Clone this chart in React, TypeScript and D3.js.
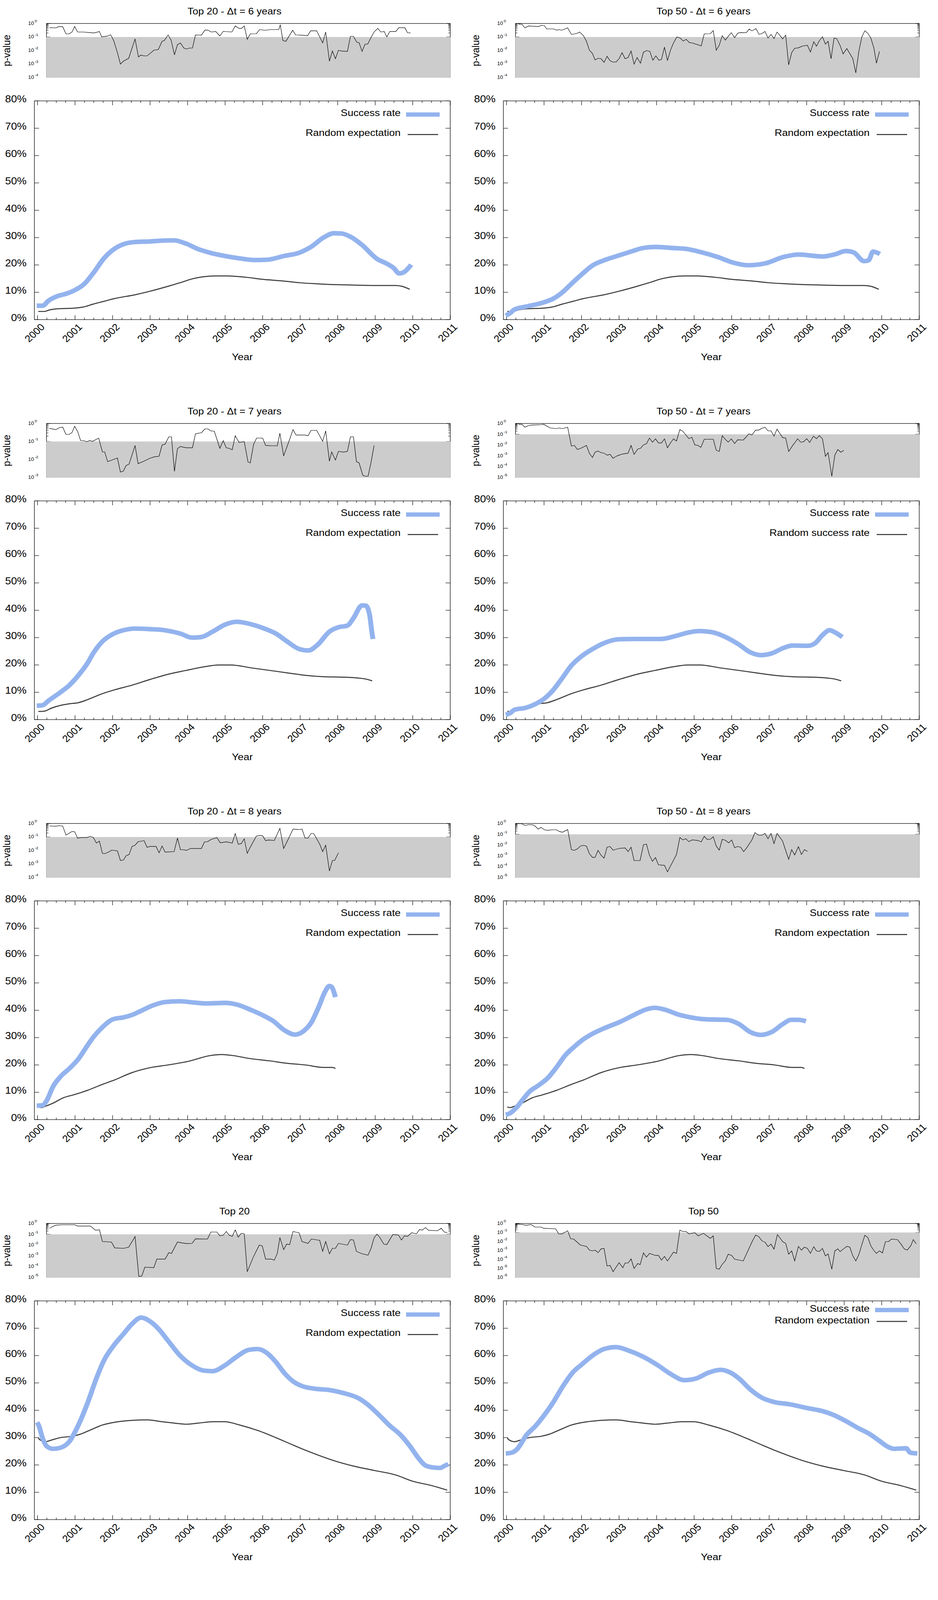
import * as d3 from 'd3';
import React from 'react';

type Pt = [number, number];

// x tick labels and y tick labels
const yearTicks = d3.range(2000, 2012);
const pctTicks = [0, 10, 20, 30, 40, 50, 60, 70, 80];

// p-value series: [year, log10(p)]
const pTop20dt6: Pt[] = [
  [2000.32, -0.31], [2000.49, -0.32], [2000.57, -0.23], [2000.67, -0.23], [2000.76, -0.77], [2000.84, -0.77],
  [2000.92, -0.63], [2000.99, -0.22], [2001.07, -0.63], [2001.23, -0.63], [2001.38, -0.67], [2001.51, -0.7],
  [2001.65, -0.59], [2001.71, -0.99], [2001.85, -0.94], [2001.95, -0.83], [2002.03, -1.26], [2002.13, -2.16],
  [2002.21, -3.01], [2002.29, -2.79], [2002.43, -2.58], [2002.6, -1.14], [2002.69, -2.47], [2002.76, -2.34],
  [2002.83, -2.4], [2002.92, -2.4], [2003.0, -2.22], [2003.1, -1.98], [2003.22, -1.93], [2003.32, -1.32],
  [2003.38, -1.26], [2003.48, -0.85], [2003.56, -1.23], [2003.65, -2.32], [2003.73, -1.57], [2003.81, -1.44],
  [2003.9, -1.82], [2003.97, -1.89], [2004.05, -1.82], [2004.13, -1.82], [2004.21, -0.85], [2004.37, -0.86],
  [2004.46, -0.49], [2004.54, -0.49], [2004.63, -0.63], [2004.75, -0.59], [2004.86, -0.92], [2004.95, -0.58],
  [2005.18, -0.63], [2005.27, -0.18], [2005.37, -0.36], [2005.44, -0.36], [2005.51, -0.18], [2005.59, -1.17],
  [2005.67, -0.77], [2005.83, -0.76], [2005.92, -0.45], [2006.07, -0.5], [2006.21, -0.45], [2006.43, -0.45],
  [2006.47, -0.09], [2006.54, -1.26], [2006.62, -1.32], [2006.8, -0.5], [2006.88, -0.85], [2007.02, -0.86],
  [2007.2, -0.9], [2007.28, -0.54], [2007.44, -0.54], [2007.6, -1.44], [2007.68, -0.63], [2007.78, -2.79],
  [2007.86, -2.04], [2007.94, -2.61], [2008.02, -1.98], [2008.1, -2.04], [2008.26, -2.07], [2008.34, -0.95],
  [2008.42, -0.95], [2008.51, -1.39], [2008.57, -1.42], [2008.65, -2.07], [2008.73, -1.53], [2008.8, -1.53],
  [2008.89, -1.03], [2008.97, -0.63], [2009.07, -0.36], [2009.15, -0.63], [2009.24, -0.59], [2009.31, -0.99],
  [2009.39, -0.59], [2009.55, -0.59], [2009.63, -0.31], [2009.79, -0.31], [2009.86, -0.68], [2009.94, -0.7],
];

const pTop50dt6: Pt[] = [
  [2000.32, -0.04], [2000.41, -0.05], [2000.49, -0.32], [2000.59, -0.18], [2000.69, -0.2], [2000.85, -0.22],
  [2000.93, -0.14], [2001.01, -0.16], [2001.07, -0.4], [2001.25, -0.4], [2001.33, -0.49], [2001.41, -0.45],
  [2001.47, -0.5], [2001.63, -0.32], [2001.73, -0.81], [2001.87, -0.74], [2001.95, -0.63], [2002.05, -0.9],
  [2002.13, -1.32], [2002.21, -1.98], [2002.29, -2.22], [2002.36, -2.7], [2002.44, -2.58], [2002.52, -2.61],
  [2002.6, -2.88], [2002.68, -2.43], [2002.76, -2.76], [2002.84, -2.86], [2002.92, -2.85], [2003.0, -2.61],
  [2003.08, -2.16], [2003.16, -2.61], [2003.24, -2.52], [2003.32, -2.04], [2003.4, -3.01], [2003.48, -2.52],
  [2003.57, -2.94], [2003.65, -2.13], [2003.74, -2.0], [2003.82, -2.07], [2003.9, -2.72], [2003.98, -2.4],
  [2004.06, -2.72], [2004.13, -2.67], [2004.21, -1.75], [2004.29, -2.74], [2004.37, -1.98], [2004.45, -1.44],
  [2004.54, -0.99], [2004.63, -1.08], [2004.71, -1.3], [2004.79, -1.17], [2004.87, -1.41], [2004.95, -1.44],
  [2005.19, -1.66], [2005.27, -0.77], [2005.43, -0.76], [2005.51, -0.52], [2005.59, -1.98], [2005.67, -1.62],
  [2005.75, -0.9], [2005.83, -1.23], [2005.99, -0.68], [2006.08, -1.05], [2006.16, -0.72], [2006.23, -0.67],
  [2006.39, -0.68], [2006.47, -0.41], [2006.54, -0.54], [2006.65, -0.38], [2006.73, -0.81], [2006.81, -0.74],
  [2006.89, -0.59], [2006.97, -1.08], [2007.05, -0.81], [2007.13, -1.12], [2007.21, -0.63], [2007.28, -0.86],
  [2007.36, -1.14], [2007.44, -0.86], [2007.52, -3.06], [2007.6, -2.16], [2007.68, -1.84], [2007.78, -1.8],
  [2007.9, -1.66], [2008.02, -1.62], [2008.1, -2.11], [2008.19, -1.35], [2008.26, -1.68], [2008.34, -1.26],
  [2008.42, -0.99], [2008.5, -1.53], [2008.57, -1.32], [2008.65, -2.61], [2008.73, -1.08], [2008.8, -1.12],
  [2008.89, -1.62], [2008.97, -2.25], [2009.07, -1.86], [2009.23, -2.61], [2009.31, -3.66], [2009.39, -2.07],
  [2009.47, -0.99], [2009.55, -0.54], [2009.63, -0.72], [2009.71, -1.08], [2009.79, -1.8], [2009.86, -2.94],
  [2009.94, -2.07],
];

const pTop20dt7: Pt[] = [
  [2000.32, -0.27], [2000.49, -0.34], [2000.57, -0.24], [2000.67, -0.2], [2000.76, -0.61], [2000.84, -0.61],
  [2000.92, -0.5], [2000.99, -0.15], [2001.07, -0.45], [2001.15, -0.95], [2001.23, -0.95], [2001.31, -1.01],
  [2001.39, -0.95], [2001.47, -0.99], [2001.63, -0.81], [2001.73, -1.58], [2001.79, -1.58], [2001.87, -2.12],
  [2002.13, -1.92], [2002.21, -2.7], [2002.29, -2.64], [2002.36, -2.34], [2002.44, -2.26], [2002.6, -1.22],
  [2002.68, -2.23], [2002.84, -2.09], [2003.0, -1.93], [2003.12, -1.85], [2003.24, -1.82], [2003.32, -1.19],
  [2003.4, -1.15], [2003.5, -0.74], [2003.57, -0.74], [2003.65, -2.66], [2003.73, -1.39], [2003.81, -1.28],
  [2003.97, -1.35], [2004.13, -1.35], [2004.21, -0.57], [2004.37, -0.51], [2004.46, -0.3], [2004.54, -0.3],
  [2004.63, -0.42], [2004.71, -0.42], [2004.86, -1.38], [2004.95, -0.95], [2005.03, -1.35], [2005.11, -1.38],
  [2005.19, -1.46], [2005.27, -0.68], [2005.37, -1.05], [2005.51, -1.01], [2005.61, -2.14], [2005.67, -2.19],
  [2005.76, -1.15], [2005.84, -0.81], [2006.0, -0.81], [2006.08, -1.22], [2006.23, -1.24], [2006.39, -1.24],
  [2006.46, -0.54], [2006.56, -1.8], [2006.72, -0.88], [2006.81, -0.34], [2006.89, -0.64], [2007.13, -0.64],
  [2007.21, -0.68], [2007.29, -0.38], [2007.44, -0.38], [2007.6, -0.99], [2007.68, -0.41], [2007.78, -2.09],
  [2007.84, -1.58], [2007.94, -2.03], [2008.02, -1.55], [2008.16, -1.59], [2008.26, -1.55], [2008.34, -0.74],
  [2008.42, -0.74], [2008.5, -2.12], [2008.57, -2.19], [2008.67, -2.88], [2008.73, -2.93], [2008.81, -2.93],
  [2008.89, -2.16], [2008.97, -1.22],
];

const pTop50dt7: Pt[] = [
  [2000.32, -0.07], [2000.41, -0.07], [2000.49, -0.34], [2000.59, -0.18], [2000.69, -0.14], [2000.93, -0.11],
  [2000.99, -0.07], [2001.07, -0.23], [2001.16, -0.41], [2001.33, -0.47], [2001.41, -0.41], [2001.49, -0.47],
  [2001.63, -0.34], [2001.73, -2.09], [2001.81, -2.03], [2001.89, -2.41], [2002.01, -2.25], [2002.13, -2.03],
  [2002.21, -2.77], [2002.29, -3.15], [2002.36, -2.66], [2002.44, -2.55], [2002.52, -2.7], [2002.6, -2.75],
  [2002.68, -2.93], [2002.76, -2.86], [2002.84, -3.22], [2002.92, -3.04], [2003.0, -2.93], [2003.1, -2.82],
  [2003.24, -2.75], [2003.32, -2.03], [2003.4, -2.86], [2003.5, -2.36], [2003.57, -2.3], [2003.65, -1.98],
  [2003.73, -1.87], [2003.81, -1.35], [2003.89, -1.73], [2003.97, -1.42], [2004.05, -1.8], [2004.13, -1.8],
  [2004.21, -1.42], [2004.29, -2.25], [2004.37, -1.8], [2004.45, -1.42], [2004.53, -1.62], [2004.62, -0.56],
  [2004.7, -0.72], [2004.78, -1.06], [2004.86, -1.4], [2004.94, -1.28], [2005.02, -1.98], [2005.1, -2.03],
  [2005.18, -2.21], [2005.27, -1.46], [2005.51, -1.46], [2005.59, -2.48], [2005.67, -2.59], [2005.75, -1.13],
  [2005.83, -1.46], [2005.91, -1.73], [2005.99, -1.42], [2006.08, -1.85], [2006.16, -1.51], [2006.31, -1.53],
  [2006.39, -1.24], [2006.46, -0.95], [2006.54, -1.06], [2006.64, -0.61], [2006.72, -0.61], [2006.8, -0.45],
  [2006.89, -0.34], [2006.97, -0.68], [2007.05, -0.68], [2007.13, -1.17], [2007.21, -0.52], [2007.29, -0.95],
  [2007.36, -1.31], [2007.44, -1.35], [2007.52, -2.59], [2007.62, -2.07], [2007.76, -1.42], [2007.84, -1.73],
  [2007.92, -1.69], [2008.0, -1.4], [2008.08, -1.76], [2008.18, -1.17], [2008.26, -1.4], [2008.34, -1.13],
  [2008.42, -1.42], [2008.5, -3.04], [2008.57, -2.7], [2008.67, -4.89], [2008.75, -2.93], [2008.83, -2.41],
  [2008.91, -2.66], [2008.99, -2.48],
];

const pTop20dt8: Pt[] = [
  [2000.32, -0.18], [2000.49, -0.2], [2000.57, -0.16], [2000.67, -0.18], [2000.76, -0.86], [2000.92, -0.59],
  [2000.99, -0.61], [2001.07, -1.09], [2001.15, -1.04], [2001.31, -1.04], [2001.41, -0.95], [2001.49, -1.04],
  [2001.57, -1.45], [2001.65, -1.31], [2001.73, -2.21], [2001.79, -2.24], [2001.89, -2.12], [2001.98, -1.97],
  [2002.13, -2.03], [2002.21, -2.74], [2002.29, -2.71], [2002.36, -2.39], [2002.44, -2.3], [2002.52, -1.7],
  [2002.6, -1.61], [2002.68, -1.35], [2002.76, -1.31], [2002.84, -1.27], [2002.92, -1.76], [2003.0, -1.7],
  [2003.16, -1.7], [2003.24, -2.17], [2003.32, -1.67], [2003.4, -2.12], [2003.64, -2.08], [2003.73, -1.08],
  [2003.81, -1.94], [2003.89, -1.94], [2003.97, -1.99], [2004.08, -1.85], [2004.37, -1.85], [2004.45, -1.36],
  [2004.53, -1.35], [2004.63, -1.18], [2004.78, -1.04], [2004.87, -1.43], [2005.03, -1.36], [2005.19, -1.45],
  [2005.27, -0.74], [2005.35, -1.54], [2005.43, -1.49], [2005.51, -1.13], [2005.59, -2.21], [2005.67, -1.76],
  [2005.83, -0.95], [2005.91, -0.88], [2006.0, -0.91], [2006.08, -1.27], [2006.16, -1.22], [2006.31, -1.26],
  [2006.46, -0.36], [2006.56, -1.85], [2006.72, -0.95], [2006.81, -0.41], [2006.97, -0.45], [2007.05, -0.41],
  [2007.13, -1.08], [2007.21, -1.08], [2007.29, -0.74], [2007.36, -0.74], [2007.52, -1.52], [2007.6, -2.08],
  [2007.68, -1.61], [2007.78, -3.52], [2007.86, -2.74], [2007.92, -2.74], [2008.02, -2.17],
];

const pTop50dt8: Pt[] = [
  [2000.32, -0.02], [2000.41, -0.02], [2000.49, -0.18], [2000.59, -0.11], [2000.68, -0.11], [2000.76, -0.22],
  [2000.84, -0.52], [2000.92, -0.36], [2001.01, -0.58], [2001.09, -0.63], [2001.23, -0.58], [2001.33, -0.58],
  [2001.41, -0.74], [2001.49, -0.81], [2001.63, -0.56], [2001.73, -2.42], [2001.81, -2.49], [2001.89, -2.35],
  [2001.97, -2.09], [2002.05, -2.02], [2002.13, -2.09], [2002.21, -2.8], [2002.29, -3.14], [2002.36, -3.14],
  [2002.44, -2.49], [2002.52, -2.94], [2002.6, -3.21], [2002.68, -2.2], [2002.76, -2.13], [2002.84, -2.47],
  [2003.0, -2.31], [2003.16, -2.26], [2003.24, -2.6], [2003.32, -2.2], [2003.4, -3.43], [2003.56, -3.43],
  [2003.65, -1.97], [2003.73, -1.91], [2003.81, -2.94], [2003.89, -3.5], [2003.97, -3.16], [2004.05, -3.83],
  [2004.21, -3.88], [2004.29, -4.48], [2004.53, -2.87], [2004.62, -1.3], [2004.7, -1.52], [2004.78, -1.41],
  [2004.86, -1.68], [2004.95, -1.52], [2005.1, -1.57], [2005.19, -1.7], [2005.27, -1.19], [2005.35, -1.48],
  [2005.43, -1.46], [2005.51, -1.23], [2005.59, -2.09], [2005.67, -2.47], [2005.75, -1.46], [2005.84, -1.57],
  [2005.92, -1.79], [2006.0, -1.52], [2006.08, -2.24], [2006.16, -2.13], [2006.24, -2.2], [2006.32, -2.6],
  [2006.4, -2.26], [2006.54, -1.52], [2006.62, -0.85], [2006.72, -1.08], [2006.81, -1.08], [2006.89, -0.92],
  [2006.97, -1.41], [2007.05, -0.92], [2007.13, -1.86], [2007.21, -0.92], [2007.36, -1.64], [2007.44, -2.49],
  [2007.52, -3.32], [2007.6, -2.42], [2007.68, -2.91], [2007.78, -2.15], [2007.86, -2.87], [2007.94, -2.42],
  [2008.02, -2.58],
];

const pTop20: Pt[] = [
  [2000.32, -0.44], [2000.41, -0.26], [2000.49, -0.16], [2000.65, -0.12], [2000.99, -0.12], [2001.07, -0.23],
  [2001.41, -0.23], [2001.55, -0.63], [2001.65, -0.58], [2001.73, -1.67], [2001.97, -1.72], [2002.06, -2.26],
  [2002.29, -2.3], [2002.43, -2.19], [2002.6, -1.21], [2002.7, -4.91], [2002.78, -4.86], [2002.86, -4.05],
  [2003.1, -4.09], [2003.18, -3.3], [2003.4, -3.3], [2003.5, -2.7], [2003.57, -2.77], [2003.73, -1.72],
  [2003.81, -1.77], [2003.97, -1.86], [2004.12, -1.84], [2004.21, -1.42], [2004.53, -1.44], [2004.62, -0.79],
  [2004.78, -0.79], [2004.86, -1.14], [2004.95, -1.09], [2005.03, -0.74], [2005.11, -1.09], [2005.19, -1.19],
  [2005.27, -0.6], [2005.35, -1.26], [2005.43, -0.91], [2005.51, -0.95], [2005.59, -4.47], [2005.75, -3.12],
  [2005.91, -2.0], [2005.99, -2.07], [2006.08, -3.3], [2006.23, -3.3], [2006.31, -3.4], [2006.39, -2.77],
  [2006.46, -1.3], [2006.56, -2.42], [2006.64, -1.91], [2006.72, -1.95], [2006.81, -0.74], [2006.97, -0.86],
  [2007.05, -1.67], [2007.21, -1.84], [2007.3, -1.44], [2007.52, -1.56], [2007.6, -2.58], [2007.68, -1.67],
  [2007.78, -2.81], [2007.86, -2.3], [2007.94, -2.3], [2008.02, -1.84], [2008.26, -2.0], [2008.34, -1.49],
  [2008.42, -1.53], [2008.5, -2.58], [2008.65, -2.81], [2008.81, -2.93], [2008.89, -2.3], [2008.97, -1.33],
  [2009.05, -0.98], [2009.13, -1.33], [2009.23, -1.91], [2009.31, -1.95], [2009.47, -1.02], [2009.62, -1.07],
  [2009.7, -1.53], [2009.78, -1.14], [2009.86, -1.19], [2009.97, -0.86], [2010.1, -0.95], [2010.18, -0.56],
  [2010.26, -0.6], [2010.34, -0.37], [2010.42, -0.63], [2010.66, -0.67], [2010.76, -0.44], [2010.84, -0.79],
  [2010.92, -0.84],
];

const pTop50: Pt[] = [
  [2000.29, -0.06], [2000.41, -0.11], [2000.53, -0.2], [2000.65, -0.11], [2000.76, -0.39], [2000.92, -0.39],
  [2000.99, -0.53], [2001.31, -0.59], [2001.39, -1.15], [2001.47, -1.17], [2001.63, -0.81], [2001.71, -1.7],
  [2001.79, -1.73], [2001.97, -2.4], [2002.13, -2.54], [2002.21, -2.96], [2002.29, -3.04], [2002.36, -2.96],
  [2002.44, -3.24], [2002.52, -2.82], [2002.6, -2.77], [2002.68, -4.72], [2002.76, -4.66], [2002.84, -5.36],
  [2003.0, -4.36], [2003.1, -4.92], [2003.16, -4.39], [2003.24, -4.39], [2003.32, -3.94], [2003.4, -5.0],
  [2003.5, -4.44], [2003.56, -4.58], [2003.65, -3.27], [2003.73, -3.74], [2003.81, -3.32], [2003.97, -3.55],
  [2004.05, -3.55], [2004.13, -4.08], [2004.21, -3.66], [2004.29, -4.16], [2004.45, -3.18], [2004.53, -3.32],
  [2004.62, -0.73], [2004.7, -0.89], [2004.78, -0.87], [2004.86, -1.15], [2005.02, -1.03], [2005.11, -1.37],
  [2005.25, -1.09], [2005.43, -1.65], [2005.51, -1.37], [2005.59, -5.0], [2005.67, -5.08], [2005.75, -4.53],
  [2005.83, -4.16], [2005.91, -3.41], [2006.0, -3.55], [2006.08, -3.97], [2006.31, -4.16], [2006.55, -1.98],
  [2006.64, -1.28], [2006.72, -1.45], [2006.81, -1.93], [2006.89, -2.07], [2006.97, -2.57], [2007.05, -2.29],
  [2007.13, -2.85], [2007.22, -1.23], [2007.36, -2.01], [2007.44, -2.21], [2007.52, -3.41], [2007.6, -3.04],
  [2007.68, -4.16], [2007.78, -2.54], [2007.86, -2.96], [2007.94, -2.63], [2008.02, -2.77], [2008.1, -3.32],
  [2008.19, -2.57], [2008.26, -3.04], [2008.34, -3.1], [2008.42, -2.77], [2008.5, -3.6], [2008.57, -3.38],
  [2008.67, -5.08], [2008.75, -3.04], [2008.83, -2.82], [2008.89, -3.13], [2008.97, -2.85], [2009.07, -2.54],
  [2009.15, -2.63], [2009.23, -3.6], [2009.31, -4.16], [2009.39, -3.46], [2009.47, -2.35], [2009.55, -1.31],
  [2009.63, -1.56], [2009.71, -2.49], [2009.79, -2.99], [2009.86, -3.32], [2009.94, -3.04], [2010.02, -3.27],
  [2010.1, -2.01], [2010.18, -2.01], [2010.26, -1.73], [2010.42, -1.79], [2010.5, -2.21], [2010.6, -2.82],
  [2010.68, -2.96], [2010.78, -2.43], [2010.84, -1.79], [2010.92, -2.26],
];

// success rate series: [year, percent]
const successTop20dt6: Pt[] = [
  [1999.98, 5.1], [2000.14, 5.1], [2000.29, 6.9], [2000.53, 8.6], [2000.77, 9.5], [2001.01, 10.9], [2001.25, 13.1],
  [2001.49, 17.1], [2001.77, 22.4], [2002.01, 25.5], [2002.29, 27.6], [2002.6, 28.4], [2003.0, 28.6], [2003.32, 28.9],
  [2003.64, 29.0], [2003.96, 27.8], [2004.28, 25.8], [2004.59, 24.5], [2004.99, 23.3], [2005.39, 22.4], [2005.79, 21.8],
  [2006.11, 21.9], [2006.58, 23.3], [2006.98, 24.5], [2007.3, 26.7], [2007.62, 30.0], [2007.9, 31.6], [2008.1, 31.5],
  [2008.38, 30.0], [2008.65, 27.3], [2009.05, 22.2], [2009.29, 20.6], [2009.49, 18.9], [2009.64, 16.9], [2009.77, 17.4],
  [2009.96, 20.1],
];

const successTop50dt6: Pt[] = [
  [1999.98, 1.5], [2000.1, 2.4], [2000.21, 3.7], [2000.53, 4.8], [2001.01, 6.4], [2001.25, 7.7], [2001.49, 10.0],
  [2001.73, 13.1], [2002.01, 16.6], [2002.29, 19.8], [2002.6, 21.7], [2003.0, 23.5], [2003.32, 24.9], [2003.64, 26.2],
  [2003.96, 26.6], [2004.43, 26.2], [2004.83, 25.8], [2005.15, 24.8], [2005.63, 22.9], [2006.03, 20.9], [2006.43, 19.9],
  [2006.9, 20.6], [2007.38, 22.9], [2007.78, 23.8], [2008.42, 23.1], [2008.73, 23.8], [2009.05, 25.1], [2009.25, 24.6],
  [2009.53, 21.4], [2009.65, 21.7], [2009.77, 24.9], [2009.86, 24.6], [2009.95, 24.0],
];

const successTop20dt7: Pt[] = [
  [1999.98, 5.1], [2000.14, 5.3], [2000.29, 6.9], [2000.61, 10.0], [2000.85, 12.6], [2001.09, 16.2], [2001.33, 20.6],
  [2001.49, 24.4], [2001.73, 28.6], [2002.01, 31.3], [2002.29, 32.7], [2002.6, 33.3], [2003.0, 33.1], [2003.4, 32.7],
  [2003.8, 31.5], [2004.12, 30.0], [2004.36, 30.2], [2004.67, 32.2], [2004.99, 34.7], [2005.31, 35.8], [2005.63, 35.1],
  [2006.03, 33.4], [2006.35, 31.5], [2006.66, 28.5], [2006.98, 25.8], [2007.22, 25.3], [2007.46, 27.3], [2007.78, 32.2],
  [2008.02, 33.8], [2008.26, 34.4], [2008.42, 37.1], [2008.65, 41.8], [2008.75, 41.7], [2008.85, 38.4], [2008.91, 32.2],
  [2008.94, 29.5],
];

const successTop50dt7: Pt[] = [
  [1999.98, 1.8], [2000.1, 2.4], [2000.21, 3.6], [2000.53, 4.4], [2000.77, 5.7], [2001.01, 7.7], [2001.25, 10.9],
  [2001.49, 15.3], [2001.73, 19.8], [2002.01, 23.3], [2002.29, 25.8], [2002.6, 28.0], [2003.0, 29.4], [2003.48, 29.5],
  [2004.12, 29.5], [2004.51, 30.6], [2004.83, 31.8], [2005.15, 32.4], [2005.47, 32.0], [2005.87, 30.0], [2006.19, 27.5],
  [2006.5, 24.6], [2006.78, 23.6], [2007.06, 24.2], [2007.38, 26.2], [2007.62, 27.1], [2008.02, 27.0], [2008.22, 27.9],
  [2008.42, 30.9], [2008.61, 32.7], [2008.77, 31.8], [2008.95, 30.2],
];

const successTop20dt8: Pt[] = [
  [1999.98, 5.1], [2000.14, 5.3], [2000.25, 7.1], [2000.41, 12.0], [2000.61, 15.7], [2000.85, 18.7], [2001.09, 22.2],
  [2001.33, 27.1], [2001.49, 30.2], [2001.73, 33.8], [2002.01, 36.7], [2002.29, 37.4], [2002.52, 38.3], [2002.76, 39.8],
  [2003.08, 41.8], [2003.4, 43.0], [2003.8, 43.3], [2004.12, 42.9], [2004.51, 42.5], [2004.99, 42.7], [2005.31, 42.1],
  [2005.71, 40.0], [2006.03, 38.0], [2006.27, 36.2], [2006.58, 32.7], [2006.86, 31.1], [2007.1, 32.5], [2007.3, 35.6],
  [2007.5, 41.4], [2007.66, 46.7], [2007.78, 48.9], [2007.84, 48.5], [2007.9, 46.7], [2007.94, 44.8],
];

const successTop50dt8: Pt[] = [
  [1999.98, 1.8], [2000.1, 2.4], [2000.25, 4.2], [2000.45, 7.6], [2000.61, 10.2], [2000.85, 12.5], [2001.09, 15.1],
  [2001.33, 19.1], [2001.57, 23.6], [2001.81, 26.7], [2002.05, 29.4], [2002.29, 31.4], [2002.6, 33.4], [2003.0, 35.6],
  [2003.4, 38.3], [2003.72, 40.3], [2003.96, 40.9], [2004.2, 40.3], [2004.59, 38.4], [2004.91, 37.4], [2005.31, 36.7],
  [2005.87, 36.5], [2006.19, 35.0], [2006.5, 32.0], [2006.78, 31.0], [2007.06, 32.0], [2007.38, 35.1], [2007.58, 36.5],
  [2007.78, 36.5], [2007.98, 36.0],
];

const successTop20: Pt[] = [
  [1999.99, 35.6], [2000.04, 34.2], [2000.14, 29.6], [2000.25, 26.8], [2000.41, 25.9], [2000.61, 26.3], [2000.85, 28.6],
  [2001.09, 34.6], [2001.33, 42.5], [2001.57, 51.7], [2001.77, 58.2], [2002.01, 63.3], [2002.29, 67.9], [2002.52, 71.6],
  [2002.76, 73.9], [2003.0, 72.5], [2003.23, 69.7], [2003.47, 65.6], [2003.8, 60.0], [2004.12, 56.4], [2004.43, 54.5],
  [2004.67, 54.3], [2004.99, 56.4], [2005.31, 59.6], [2005.63, 62.1], [2005.87, 62.4], [2006.11, 61.0], [2006.35, 57.7],
  [2006.58, 53.6], [2006.82, 50.5], [2007.06, 48.8], [2007.38, 47.9], [2007.78, 47.4], [2008.18, 46.2], [2008.57, 44.3],
  [2008.81, 42.0], [2009.13, 37.9], [2009.37, 34.6], [2009.69, 30.8], [2009.93, 26.8], [2010.17, 22.2], [2010.33, 19.9],
  [2010.53, 19.1], [2010.73, 18.9], [2010.85, 19.7], [2010.95, 20.3],
];

const successTop50: Pt[] = [
  [1999.98, 24.2], [2000.14, 24.5], [2000.29, 25.9], [2000.53, 30.9], [2000.77, 34.2], [2001.01, 38.3], [2001.25, 43.0],
  [2001.49, 48.5], [2001.77, 53.9], [2002.01, 56.8], [2002.29, 60.0], [2002.6, 62.4], [2002.92, 63.1], [2003.24, 61.9],
  [2003.64, 59.6], [2004.04, 56.4], [2004.36, 53.4], [2004.75, 51.0], [2005.07, 51.7], [2005.39, 53.8], [2005.71, 54.8],
  [2005.95, 53.9], [2006.19, 51.7], [2006.5, 47.6], [2006.82, 44.5], [2007.14, 43.0], [2007.54, 42.2], [2008.02, 40.8],
  [2008.42, 39.7], [2008.73, 38.2], [2009.05, 36.0], [2009.37, 33.5], [2009.69, 31.2], [2009.93, 28.9], [2010.17, 26.6],
  [2010.33, 25.9], [2010.65, 26.1], [2010.76, 24.5], [2010.95, 24.2],
];

// random expectation series (shared by Top 20 / Top 50 for each window)
const random6: Pt[] = [
  [2000.02, 3.0], [2000.18, 3.0], [2000.33, 3.6], [2000.57, 4.0], [2000.97, 4.2], [2001.21, 4.6], [2001.49, 5.7],
  [2001.77, 6.7], [2002.05, 7.7], [2002.6, 9.1], [2003.0, 10.4], [2003.48, 12.2], [2003.8, 13.5], [2004.12, 14.9],
  [2004.43, 15.7], [2004.75, 16.0], [2005.07, 16.0], [2005.55, 15.5], [2006.03, 14.7], [2006.5, 14.2], [2006.98, 13.5],
  [2007.46, 13.1], [2007.94, 12.8], [2008.57, 12.6], [2008.97, 12.5], [2009.52, 12.5], [2009.71, 12.2], [2009.92, 11.1],
];

const random7: Pt[] = [
  [2000.02, 3.0], [2000.18, 3.1], [2000.37, 4.2], [2000.61, 5.2], [2000.85, 5.8], [2001.09, 6.2], [2001.33, 7.3],
  [2001.73, 9.5], [2002.05, 10.9], [2002.52, 12.6], [2003.0, 14.7], [2003.48, 16.6], [2003.96, 18.0], [2004.43, 19.3],
  [2004.83, 20.0], [2005.15, 20.0], [2005.71, 18.9], [2006.19, 18.0], [2006.66, 17.1], [2007.14, 16.2], [2007.62, 15.7],
  [2008.26, 15.5], [2008.73, 14.9], [2008.92, 14.2],
];

const random8: Pt[] = [
  [2000.02, 4.6], [2000.1, 4.4], [2000.21, 4.9], [2000.41, 6.0], [2000.69, 8.0], [2000.97, 9.1], [2001.33, 10.7],
  [2001.73, 12.9], [2002.05, 14.5], [2002.52, 17.2], [2003.0, 19.0], [2003.48, 20.0], [2004.04, 21.4], [2004.59, 23.4],
  [2004.91, 23.8], [2005.23, 23.4], [2005.63, 22.4], [2006.19, 21.5], [2006.66, 20.6], [2007.14, 20.0], [2007.62, 19.1],
  [2007.86, 19.1], [2007.94, 18.7],
];

const randomAll: Pt[] = [
  [2000.02, 29.8], [2000.1, 28.9], [2000.21, 28.5], [2000.37, 29.1], [2000.61, 30.0], [2000.93, 30.5], [2001.13, 31.2],
  [2001.41, 32.8], [2001.73, 34.6], [2002.05, 35.6], [2002.52, 36.3], [2002.92, 36.5], [2003.32, 35.8], [2003.64, 35.3],
  [2003.96, 34.9], [2004.28, 35.3], [2004.67, 35.8], [2004.99, 35.8], [2005.39, 34.6], [2005.87, 32.6], [2006.35, 30.0],
  [2006.74, 27.7], [2007.14, 25.4], [2007.54, 23.3], [2007.94, 21.4], [2008.42, 19.6], [2008.97, 18.0], [2009.53, 16.4],
  [2010.01, 14.0], [2010.49, 12.5], [2010.92, 10.8],
];

interface PanelCfg {
  title: string;
  pLog: Pt[];
  minExp: number;
  success: Pt[];
  random: Pt[];
  randomLabel: string;
  compactLegend?: boolean;
}

const panels: PanelCfg[] = [
  { title: 'Top 20 - Δt = 6 years', pLog: pTop20dt6, minExp: -4, success: successTop20dt6, random: random6, randomLabel: 'Random expectation' },
  { title: 'Top 50 - Δt = 6 years', pLog: pTop50dt6, minExp: -4, success: successTop50dt6, random: random6, randomLabel: 'Random expectation' },
  { title: 'Top 20 - Δt = 7 years', pLog: pTop20dt7, minExp: -3, success: successTop20dt7, random: random7, randomLabel: 'Random expectation' },
  { title: 'Top 50 - Δt = 7 years', pLog: pTop50dt7, minExp: -5, success: successTop50dt7, random: random7, randomLabel: 'Random success rate' },
  { title: 'Top 20 - Δt = 8 years', pLog: pTop20dt8, minExp: -4, success: successTop20dt8, random: random8, randomLabel: 'Random expectation' },
  { title: 'Top 50 - Δt = 8 years', pLog: pTop50dt8, minExp: -5, success: successTop50dt8, random: random8, randomLabel: 'Random expectation' },
  { title: 'Top 20', pLog: pTop20, minExp: -5, success: successTop20, random: randomAll, randomLabel: 'Random expectation' },
  { title: 'Top 50', pLog: pTop50, minExp: -6, success: successTop50, random: randomAll, randomLabel: 'Random expectation', compactLegend: true },
];

const BLUE = '#93b3ee';
const DARK = '#404040';
const GRAY = '#cccccc';

const main = { left: 88, right: 1152, top: 277.5, bottom: 879 };
const pbox = { left: 119, right: 1152, top: 64.7, bottom: 213 };

const Panel: React.FC<{ cfg: PanelCfg; x0: number; y0: number }> = ({ cfg, x0, y0 }) => {
  const x = d3.scaleLinear().domain([1999.917, 2011]).range([main.left, main.right]);
  const y = d3.scaleLinear().domain([0, 80]).range([main.bottom, main.top]);
  const py = d3.scaleLinear().domain([0, cfg.minExp]).range([pbox.top, pbox.bottom]);

  const smooth = d3
    .line<Pt>()
    .x((d) => x(d[0]))
    .y((d) => y(d[1]))
    .curve(d3.curveMonotoneX);
  const jagged = d3
    .line<Pt>()
    .x((d) => x(d[0]))
    .y((d) => py(d[1]));

  const decades = d3.range(0, cfg.minExp - 1, -1);
  const minor = decades.slice(1).flatMap((e) => d3.range(2, 10).map((k) => e + Math.log10(k)));
  const quarters = d3.range(0, 45).map((i) => 2000 + i / 4);

  const leg = cfg.compactLegend
    ? { t1: 307, l1: 302.5, t2: 339, l2: 334 }
    : { t1: 319, l1: 315, t2: 374, l2: 370 };

  return (
    <g transform={`translate(${x0},${y0})`}>
      <text x={600} y={40} textAnchor="middle" fontSize={26}>
        {cfg.title}
      </text>

      {/* p-value strip */}
      {decades.map((e) => (
        <g key={`pd${e}`}>
          <line x1={pbox.left} x2={pbox.left + 10} y1={py(e)} y2={py(e)} stroke="#000" strokeWidth={1} />
          <line x1={pbox.right} x2={pbox.right - 10} y1={py(e)} y2={py(e)} stroke="#000" strokeWidth={1} />
          <text x={87} y={py(e) + 4} textAnchor="end" fontSize={13.5}>
            10
          </text>
          <text x={89} y={py(e) - 3} fontSize={10}>
            {`${e}`}
          </text>
        </g>
      ))}
      {minor.map((m, i) => (
        <g key={`pm${i}`}>
          <line x1={pbox.left} x2={pbox.left + 5} y1={py(m)} y2={py(m)} stroke="#000" strokeWidth={1} />
          <line x1={pbox.right} x2={pbox.right - 5} y1={py(m)} y2={py(m)} stroke="#000" strokeWidth={1} />
        </g>
      ))}
      <path
        d={`M${pbox.left},${pbox.bottom}V${pbox.top}H${pbox.right}V${pbox.bottom}`}
        fill="none"
        stroke="#000"
        strokeWidth={1.3}
      />
      <rect
        x={pbox.left - 0.7}
        y={py(-1)}
        width={pbox.right - pbox.left + 1.4}
        height={pbox.bottom - py(-1) + 0.7}
        fill={GRAY}
      />
      <path d={jagged(cfg.pLog) ?? ''} fill="none" stroke="#000" strokeWidth={1.2} />
      <text transform={`translate(26,${(pbox.top + pbox.bottom) / 2}) rotate(-90)`} textAnchor="middle" fontSize={26.5}>
        p-value
      </text>

      {/* main plot */}
      <rect
        x={main.left}
        y={main.top}
        width={main.right - main.left}
        height={main.bottom - main.top}
        fill="none"
        stroke="#000"
        strokeWidth={1.3}
      />
      {quarters.map((q) => {
        const len = Number.isInteger(q) ? 12 : 5.5;
        return (
          <g key={`q${q}`}>
            <line x1={x(q)} x2={x(q)} y1={main.bottom} y2={main.bottom - len} stroke="#000" strokeWidth={1.2} />
            <line x1={x(q)} x2={x(q)} y1={main.top} y2={main.top + len} stroke="#000" strokeWidth={1.2} />
          </g>
        );
      })}
      {pctTicks.map((v) => (
        <g key={`y${v}`}>
          <line x1={main.left} x2={main.left + 12} y1={y(v)} y2={y(v)} stroke="#000" strokeWidth={1.2} />
          <line x1={main.right} x2={main.right - 12} y1={y(v)} y2={y(v)} stroke="#000" strokeWidth={1.2} />
          <text x={68} y={y(v) + 4} textAnchor="end" fontSize={27.5}>
            {`${v}%`}
          </text>
        </g>
      ))}
      {yearTicks.map((yr) => (
        <text
          key={`yr${yr}`}
          transform={`translate(${x(yr) + 20},${main.bottom + 22}) rotate(-45)`}
          textAnchor="end"
          fontSize={26.5}
        >
          {yr}
        </text>
      ))}
      <text x={(main.left + main.right) / 2} y={990} textAnchor="middle" fontSize={26.5}>
        Year
      </text>

      <path d={smooth(cfg.random) ?? ''} fill="none" stroke={DARK} strokeWidth={2.9} />
      <path d={smooth(cfg.success) ?? ''} fill="none" stroke={BLUE} strokeWidth={12.5} strokeLinecap="butt" strokeLinejoin="round" />

      {/* legend */}
      <text x={1025} y={leg.t1} textAnchor="end" fontSize={26.5}>
        Success rate
      </text>
      <line x1={1039} x2={1125} y1={leg.l1} y2={leg.l1} stroke={BLUE} strokeWidth={12} />
      <text x={1025} y={leg.t2} textAnchor="end" fontSize={26.5}>
        {cfg.randomLabel}
      </text>
      <line x1={1043} x2={1121} y1={leg.l2} y2={leg.l2} stroke={DARK} strokeWidth={3} />
    </g>
  );
};

// The photographed area is shorter than the 4400px figure, so the whole
// figure is drawn in a 2400x4400 coordinate space and fitted into it.
const App: React.FC = () => (
  <svg
    width={2400}
    height={4096}
    viewBox="0 0 2400 4400"
    preserveAspectRatio="none"
    style={{ position: 'absolute', left: 0, top: 0, display: 'block' }}
    fontFamily="'Liberation Sans', Arial, sans-serif"
  >
    <rect width={2400} height={4400} fill="#fff" />
    {panels.map((p, i) => (
      <Panel key={p.title} cfg={p} x0={(i % 2) * 1200} y0={Math.floor(i / 2) * 1100} />
    ))}
  </svg>
);

export default App;
